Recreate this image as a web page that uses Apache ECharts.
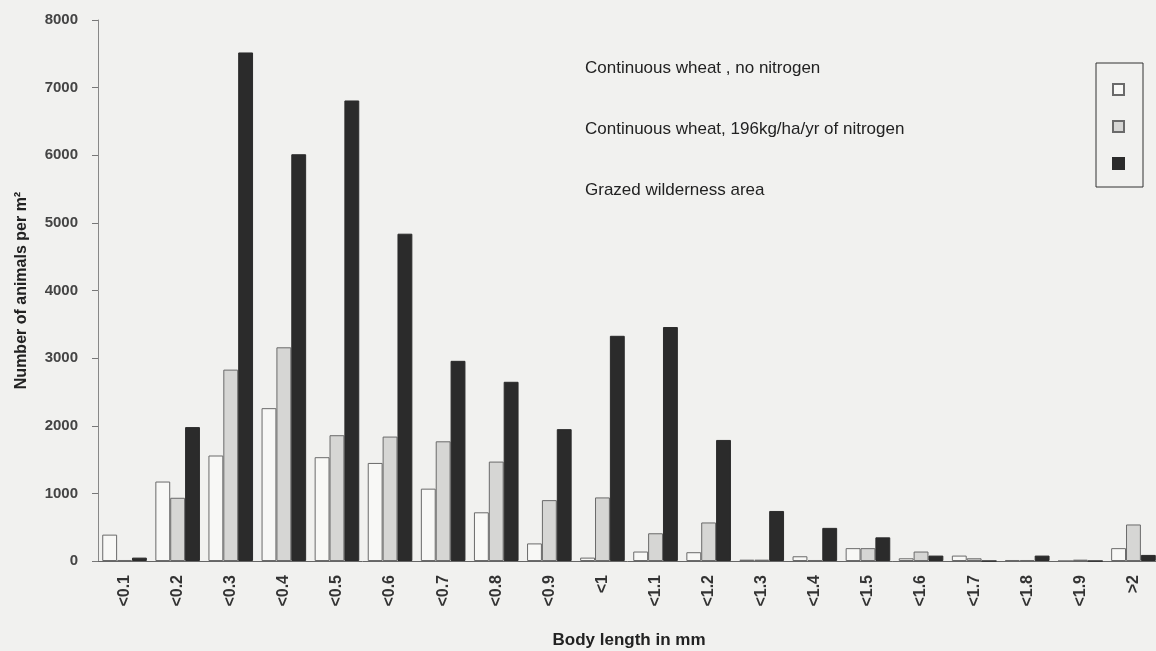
<!DOCTYPE html>
<html>
<head>
<meta charset="utf-8">
<script src="https://cdn.jsdelivr.net/npm/echarts@6/dist/echarts.min.js"></script>
<style>
    html, body { margin: 0; padding: 0; background: #f1f1ef; }
    #chart { width: 1156px; height: 651px; }
</style>
</head>
<body>
<div id="chart"></div>
<script>
// body length classes
var categories = ['<0.1', '<0.2', '<0.3', '<0.4', '<0.5', '<0.6', '<0.7', '<0.8', '<0.9', '<1',
    '<1.1', '<1.2', '<1.3', '<1.4', '<1.5', '<1.6', '<1.7', '<1.8', '<1.9', '>2'];
var seriesNames = ['Continuous wheat , no nitrogen', 'Continuous wheat, 196kg/ha/yr of nitrogen', 'Grazed wilderness area'];
var noNitrogen = [390, 1175, 1560, 2260, 1535, 1450, 1070, 720, 260, 50, 140, 130, 20, 70, 190, 40, 80, 15, 0, 190];
var withNitrogen = [15, 935, 2830, 3160, 1860, 1840, 1770, 1470, 900, 940, 410, 570, 20, 15, 190, 140, 40, 15, 20, 540];
var grazed = [50, 1980, 7520, 6015, 6810, 4840, 2960, 2650, 1950, 3330, 3460, 1790, 740, 490, 350, 80, 0, 80, 0, 90];
var yTicks = [0, 1000, 2000, 3000, 4000, 5000, 6000, 7000, 8000];

var fills = ['#f8f8f6', '#d6d6d4', '#2b2b2b'];
var values = [noNitrogen, withNitrogen, grazed];

var series = [];
for (var i = 0; i < 3; i++) {
    series.push({
        name: seriesNames[i],
        type: 'bar',
        data: values[i],
        barGap: '0%',
        barCategoryGap: '16%',
        itemStyle: {
            color: fills[i],
            borderColor: i == 2 ? '#2b2b2b' : '#6a6a6a',
            borderWidth: 1
        }
    });
}

var myChart = echarts.init(document.getElementById('chart'));
myChart.setOption({
    backgroundColor: '#f1f1ef',
    animation: false,
    textStyle: { fontFamily: 'Liberation Sans, Arial, sans-serif' },
    grid: { left: 98, top: 20, width: 1062, height: 541, outerBoundsMode: 'none', containLabel: false },
    //label column of the legend
    legend: [{
        data: seriesNames,
        orient: 'vertical',
        left: 574,
        top: 55,
        itemWidth: 0,
        itemHeight: 0,
        itemGap: 44,
        selectedMode: false,
        textStyle: { fontSize: 17, color: '#222' }
    }, {
        //symbol box
        data: seriesNames,
        orient: 'vertical',
        left: 1096,
        top: 63,
        icon: 'rect',
        itemWidth: 11,
        itemHeight: 11,
        itemGap: 24,
        padding: [20, 18, 17, 16],
        borderColor: '#333',
        borderWidth: 1,
        selectedMode: false,
        formatter: function () { return ''; },
        textStyle: { fontSize: 10 }
    }],
    xAxis: {
        type: 'category',
        data: categories,
        name: 'Body length in mm',
        nameLocation: 'middle',
        nameGap: 71,
        nameTextStyle: { fontSize: 17, fontWeight: 'bold', color: '#222' },
        axisLine: { lineStyle: { color: '#666', width: 1 } },
        axisTick: { length: 6, lineStyle: { color: '#666' } },
        axisLabel: { rotate: 90, margin: 14, fontSize: 16, fontWeight: 'bold', color: '#333' }
    },
    yAxis: {
        type: 'value',
        min: yTicks[0],
        max: yTicks[yTicks.length - 1],
        interval: 1000,
        name: 'Number of animals per m²',
        nameLocation: 'middle',
        nameGap: 68,
        nameTextStyle: { fontSize: 16, fontWeight: 'bold', color: '#222' },
        axisLine: { show: true, lineStyle: { color: '#888', width: 1 } },
        axisTick: { show: true, length: 6, lineStyle: { color: '#777' } },
        axisLabel: {
            margin: 20, fontSize: 15, fontWeight: 'bold', color: '#444',
            formatter: function (v) { return String(v); }
        },
        splitLine: { show: false }
    },
    series: series
});
</script>
</body>
</html>
